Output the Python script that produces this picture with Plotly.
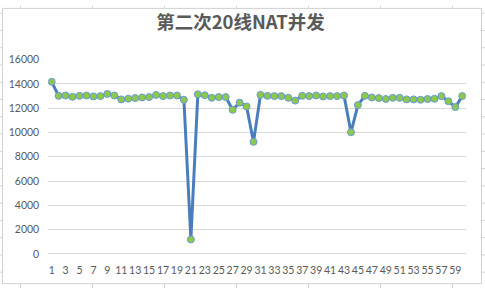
import plotly.graph_objects as go

W, H = 485, 294

title_text = "第二次20线NAT并发"
x_index = list(range(1, 61))
values = [14180, 13020, 13050, 12940, 13020, 13050, 12970, 13000, 13180, 13050,
          12730, 12790, 12840, 12890, 12920, 13100, 13000, 13050, 13050, 12700,
          1190, 13150, 13070, 12860, 12920, 12920, 11870, 12460, 12150, 9230,
          13100, 13020, 13000, 13000, 12860, 12630, 13020, 13000, 13050, 12970,
          13000, 13000, 13050, 10020, 12260, 13020, 12890, 12840, 12760, 12860,
          12860, 12730, 12730, 12700, 12760, 12780, 13000, 12580, 12100, 13000]
x_tick_vals = list(range(1, 61, 2))
x_tick_text = [str(v) for v in x_tick_vals]
y_tick_vals = [0, 2000, 4000, 6000, 8000, 10000, 12000, 14000, 16000]
y_tick_text = [str(v) for v in y_tick_vals]

fig = go.Figure()
fig.add_trace(go.Scatter(
    x=x_index, y=values, mode="lines+markers",
    line=dict(color="#4A7EBB", width=3),
    marker=dict(size=7, color="#8CC84B", line=dict(color="#6A9BD8", width=1)),
    showlegend=False, hoverinfo="skip"))

def px(x):
    return x / W

def py(y):
    return 1 - y / H

shapes = []
grid_col = "#D4D4D4"
for gx in [20.5, 92.5, 164.5, 236.5, 308.5, 380.5, 452.5]:
    shapes.append(dict(type="line", xref="paper", yref="paper", x0=px(gx), x1=px(gx),
                       y0=0, y1=1, line=dict(color=grid_col, width=1), layer="below"))
for gy in range(7, 294, 18):
    shapes.append(dict(type="line", xref="paper", yref="paper", x0=0, x1=1,
                       y0=py(gy + 0.5), y1=py(gy + 0.5), line=dict(color=grid_col, width=1), layer="below"))
shapes.append(dict(type="rect", xref="paper", yref="paper", x0=px(2.5), x1=px(481.5),
                   y0=py(289.5), y1=py(2.5), fillcolor="white",
                   line=dict(color="#D0D0D0", width=1), layer="below"))

tick_font = dict(family="Lato, 'Open Sans', sans-serif", size=10.5, color="#595959")

fig.update_layout(
    width=W, height=H,
    margin=dict(l=0, r=0, t=0, b=0),
    paper_bgcolor="white", plot_bgcolor="rgba(0,0,0,0)",
    shapes=shapes,
    title=dict(text="<b>" + title_text + "</b>", x=px(240.5), xanchor="center",
               y=py(22.5), yanchor="middle",
               font=dict(family="'Noto Sans CJK SC', sans-serif", size=18.5, color="#595959")),
    xaxis=dict(domain=[px(48.2), px(465.8)], range=[0.5, 60.5],
               tickmode="array", tickvals=x_tick_vals, ticktext=x_tick_text,
               tickangle=0,
               showgrid=False, zeroline=False, showline=False, ticks="",
               tickfont=tick_font, ticklabelstandoff=9, fixedrange=True),
    yaxis=dict(domain=[py(258.4), py(56)], range=[0, 16000],
               tickmode="array", tickvals=y_tick_vals, ticktext=y_tick_text,
               showgrid=True, gridcolor="#D9D9D9", gridwidth=1,
               zeroline=True, zerolinecolor="#D9D9D9", zerolinewidth=1,
               showline=False, ticks="",
               tickfont=tick_font, ticklabelstandoff=8, fixedrange=True),
)

fig.write_html("out.html", config={"displayModeBar": False})
